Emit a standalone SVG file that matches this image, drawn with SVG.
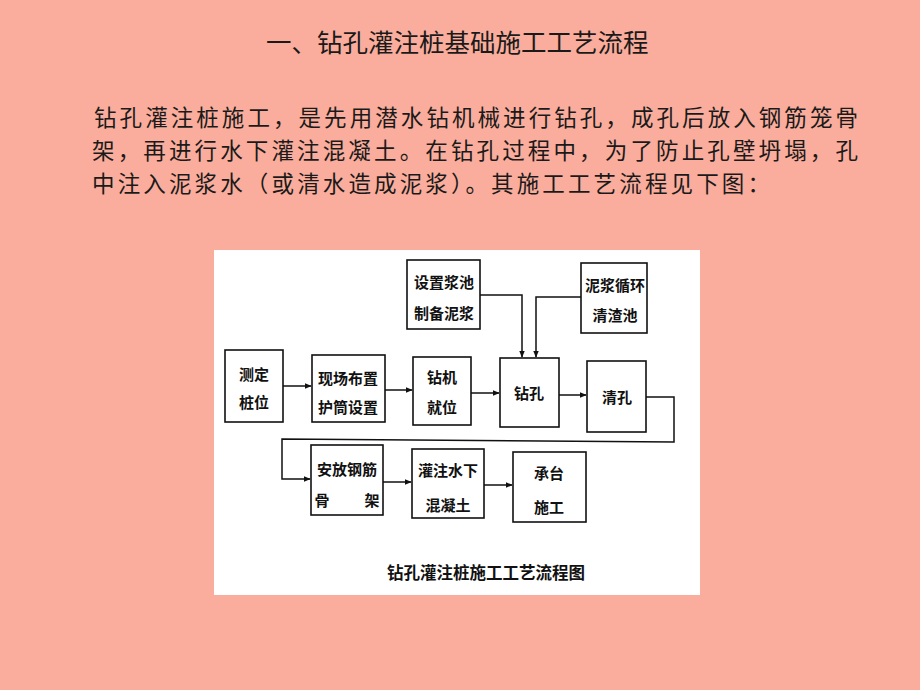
<svg xmlns="http://www.w3.org/2000/svg" width="920" height="690" viewBox="0 0 920 690">
<defs>
<marker id="ah" viewBox="0 0 10 10" refX="9" refY="5" markerWidth="7" markerHeight="7" markerUnits="userSpaceOnUse" orient="auto">
<path d="M0,1 L10,5 L0,9 z" fill="#111"/>
</marker>
<style>
.hd{font-family:"Noto Sans CJK SC",sans-serif;font-size:25.5px;fill:#1a1a1a}
.pg{font-family:"Noto Sans CJK SC",sans-serif;font-size:22.5px;fill:#1a1a1a}
.nb{fill:#fff;stroke:#111;stroke-width:1.6}
.nt{font-family:"Noto Sans CJK SC",sans-serif;font-size:15px;font-weight:bold;fill:#111;text-anchor:middle}
.cn{fill:none;stroke:#111;stroke-width:1.5}
</style>
</defs>
<rect x="0" y="0" width="920" height="690" fill="#FAAD9C"/>
<text class="hd" x="266" y="52">一、钻孔灌注桩基础施工工艺流程</text>
<text class="pg" x="94" y="126" textLength="764" lengthAdjust="spacing">钻孔灌注桩施工，是先用潜水钻机械进行钻孔，成孔后放入钢筋笼骨</text>
<text class="pg" x="92" y="159" textLength="766" lengthAdjust="spacing">架，再进行水下灌注混凝土。在钻孔过程中，为了防止孔壁坍塌，孔</text>
<text class="pg" x="92" y="192" textLength="678" lengthAdjust="spacing">中注入泥浆水（或清水造成泥浆）。其施工工艺流程见下图：</text>
<rect x="214" y="250" width="486" height="345" fill="#fff"/>
<g id="connectors">
<line class="cn" x1="283" y1="386" x2="311" y2="386" marker-end="url(#ah)"/>
<line class="cn" x1="385" y1="390" x2="412" y2="390" marker-end="url(#ah)"/>
<line class="cn" x1="471" y1="393" x2="499" y2="393" stroke-width="2.2" marker-end="url(#ah)"/>
<line class="cn" x1="559" y1="395" x2="586" y2="395" marker-end="url(#ah)"/>
<polyline class="cn" points="480,295 522,295 522,357" marker-end="url(#ah)"/>
<polyline class="cn" points="581,297 536,297 536,357" marker-end="url(#ah)"/>
<polyline class="cn" points="646,397 674,397 674,442 282,439 282,479 310,479" marker-end="url(#ah)"/>
<line class="cn" x1="383" y1="482" x2="411" y2="482" marker-end="url(#ah)"/>
<line class="cn" x1="484" y1="485" x2="512" y2="485" marker-end="url(#ah)"/>
</g>
<g id="n-cedingzhuangwei"><rect class="nb" x="225" y="350" width="58" height="72"/><text class="nt" x="254" y="380">测定</text><text class="nt" x="254" y="408">桩位</text></g>
<g id="n-xianchangbuzhi"><rect class="nb" x="312" y="355" width="73" height="67"/><text class="nt" x="348" y="384">现场布置</text><text class="nt" x="348" y="413">护筒设置</text></g>
<g id="n-zuanjijiuwei"><rect class="nb" x="413" y="357" width="58" height="68"/><text class="nt" x="442" y="383">钻机</text><text class="nt" x="442" y="413">就位</text></g>
<g id="n-zuankong"><rect class="nb" x="500" y="358" width="59" height="69"/><text class="nt" x="529" y="399">钻孔</text></g>
<g id="n-qingkong"><rect class="nb" x="587" y="361" width="59" height="71"/><text class="nt" x="617" y="403">清孔</text></g>
<g id="n-shezhijiangchi"><rect class="nb" x="407" y="260" width="73" height="69"/><text class="nt" x="444" y="288">设置浆池</text><text class="nt" x="444" y="319">制备泥浆</text></g>
<g id="n-nijiangxunhuan"><rect class="nb" x="581" y="263" width="66" height="70"/><text class="nt" x="615" y="291">泥浆循环</text><text class="nt" x="615" y="321">清渣池</text></g>
<g id="n-anfanggangjin"><rect class="nb" x="311" y="445" width="72" height="70"/><text class="nt" x="347" y="475">安放钢筋</text><text class="nt" x="322" y="506">骨</text><text class="nt" x="372" y="506">架</text></g>
<g id="n-guanzhushuixia"><rect class="nb" x="412" y="449" width="72" height="69"/><text class="nt" x="448" y="476">灌注水下</text><text class="nt" x="448" y="511">混凝土</text></g>
<g id="n-chengtaishigong"><rect class="nb" x="513" y="452" width="73" height="70"/><text class="nt" x="549" y="479">承台</text><text class="nt" x="549" y="513">施工</text></g>
<text class="nt" x="486" y="579" style="font-size:16.5px">钻孔灌注桩施工工艺流程图</text>
</svg>
